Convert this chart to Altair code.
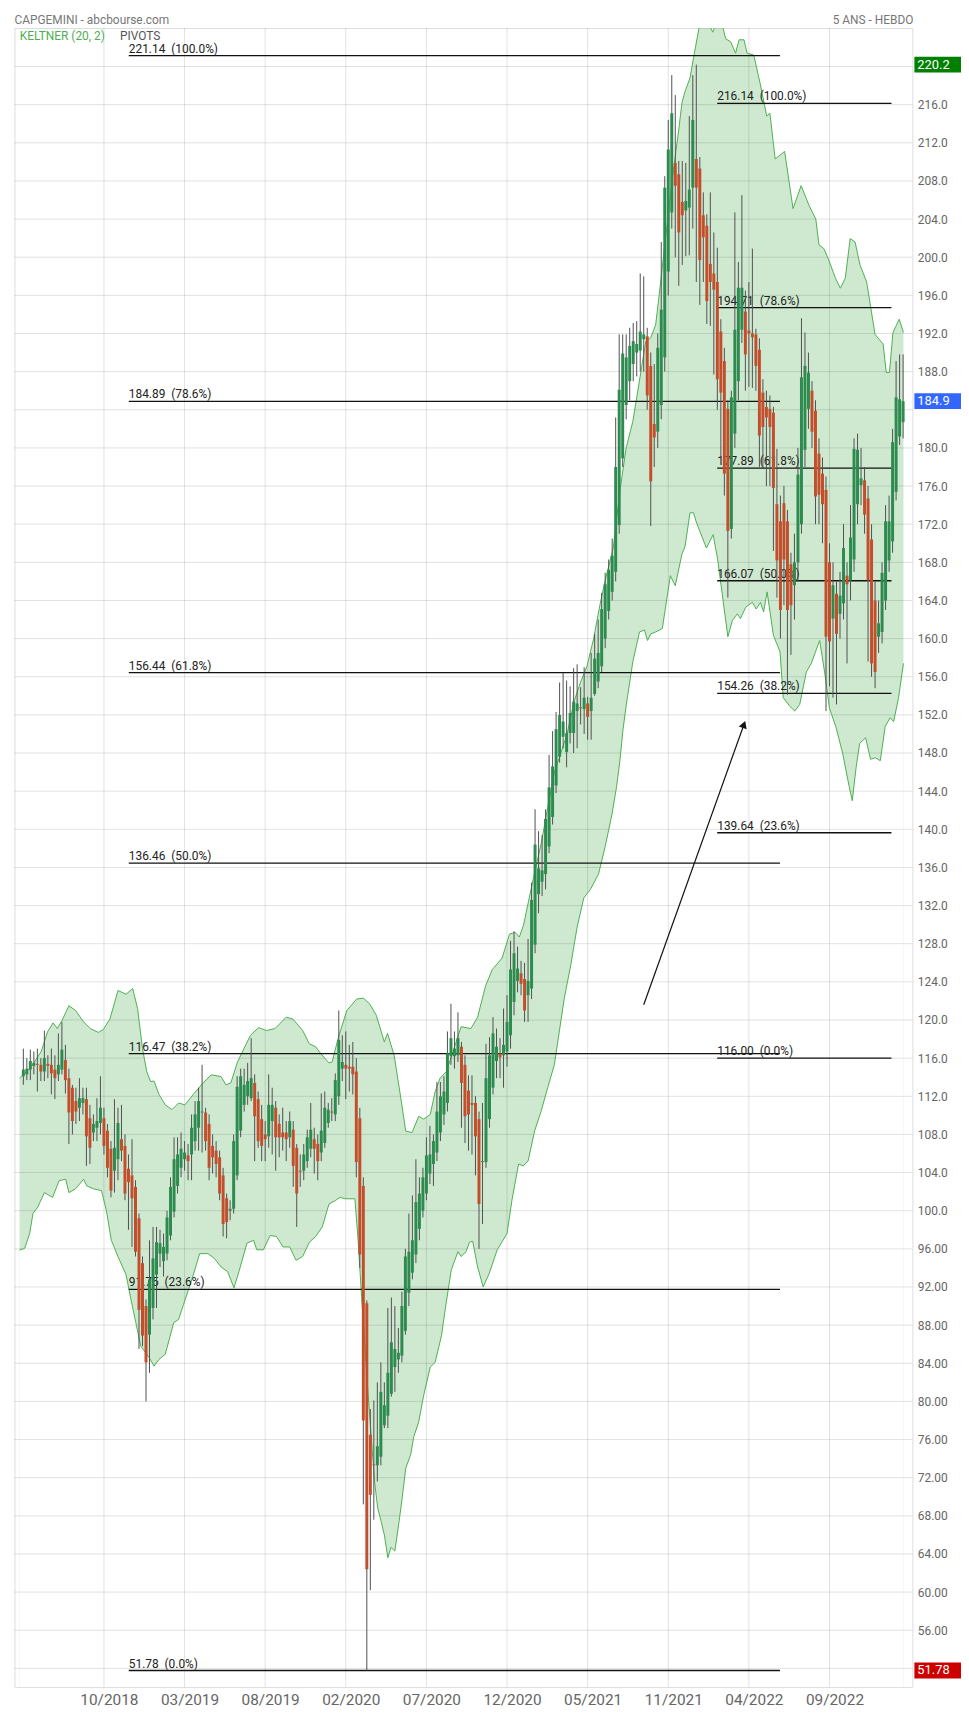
import altair as alt
import pandas as pd

# ---------------- candle data (weekly, index 0 .. 251) ----------------
OPEN = [
114.1,114.3,114.8,115.2,115.4,115.3,114.6,115.4,115.3,114.8,
114.3,114.8,115.8,113.9,112.9,111.5,110.8,111.3,111.7,109.7,
108.2,108.7,109.2,109.7,108.4,106.5,104.2,105.4,107.5,106.8,
104.4,103.7,102.5,99.2,94.5,90.0,87.0,89.8,93.3,95.5,
94.7,95.5,97.4,99.9,102.6,104.5,105.4,105.8,105.9,107.3,
108.7,110.3,110.3,109.1,106.8,106.3,105.6,103.7,101.3,100.0,
100.2,103.7,108.4,111.1,112.0,111.8,113.4,111.7,109.6,108.0,
107.8,109.4,110.8,109.1,108.2,108.2,107.7,108.5,106.6,104.2,
104.2,105.2,106.5,107.5,107.0,106.1,107.1,109.2,110.4,110.1,
112.0,114.9,115.3,115.1,115.1,114.6,109.7,102.6,90.3,76.5,
73.4,73.3,74.2,77.5,78.5,80.8,83.6,84.4,84.8,87.4,
91.4,93.5,95.4,98.1,100.0,101.8,103.9,104.9,106.1,108.2,
110.1,111.3,116.2,116.2,116.3,117.2,115.3,112.6,111.3,111.3,
109.6,105.1,105.1,109.6,112.9,115.7,116.5,116.3,116.7,118.4,
121.9,124.1,124.9,124.3,122.6,123.3,127.9,133.2,134.5,135.3,
138.2,141.3,144.6,147.6,149.7,148.1,150.1,150.1,152.4,152.8,
152.6,153.2,152.4,154.2,155.5,157.1,160.0,162.9,164.9,167.0,
171.9,178.9,184.5,187.0,188.8,190.0,190.2,191.4,191.7,188.6,
182.5,181.7,184.5,189.5,198.5,204.7,209.9,208.7,205.8,204.9,
205.2,207.3,210.3,209.3,204.4,203.3,199.3,198.3,197.4,192.2,
189.1,184.1,171.5,181.5,187.0,192.4,194.3,192.3,192.0,191.9,
190.3,185.8,184.3,184.1,183.7,174.1,172.3,174.2,172.3,167.8,
165.6,168.0,172.0,179.8,184.1,186.0,183.9,179.4,177.3,175.6,
168.0,162.1,164.7,162.6,163.7,166.6,166.1,168.3,174.1,176.1,
176.6,174.7,170.4,164.0,160.2,160.7,164.0,168.2,170.2,175.4,
181.2,182.7]
HIGH = [
117.0,116.0,116.9,116.7,117.0,116.0,118.9,116.3,117.0,116.3,
118.6,119.8,117.4,114.9,113.2,112.9,113.9,112.9,112.9,111.1,
110.1,111.8,114.1,110.8,109.1,107.3,111.7,110.8,111.1,108.0,
105.9,107.5,103.2,99.7,95.2,90.7,96.9,98.3,98.3,98.0,
97.6,100.0,103.5,107.7,107.7,108.2,107.3,107.0,110.1,111.5,
112.9,115.3,110.8,110.1,108.0,107.3,106.3,104.5,101.8,101.1,
108.0,114.1,114.9,114.9,115.5,118.1,114.3,112.5,111.1,109.4,
114.3,112.9,111.5,110.1,110.8,109.4,110.4,109.4,107.0,105.9,
107.0,108.5,111.3,108.7,108.0,112.3,112.5,111.3,111.8,114.4,
121.0,118.4,118.8,117.4,117.7,116.0,110.8,103.5,90.6,79.2,
80.1,82.0,84.1,82.0,89.8,90.9,90.0,87.7,91.5,96.0,
99.7,101.6,105.4,103.5,104.5,107.7,108.9,108.0,113.5,113.5,
114.1,118.8,121.7,118.8,120.8,117.7,116.3,114.2,114.2,112.0,
110.4,111.3,117.5,118.2,120.3,119.1,118.1,121.2,122.6,128.3,
129.3,127.7,126.2,126.0,128.5,134.4,142.1,139.8,139.4,142.1,
147.8,150.3,152.3,155.4,156.4,155.6,155.0,156.9,157.3,154.9,
157.0,153.9,158.5,160.5,162.0,164.8,166.9,168.3,170.5,183.2,
191.9,191.9,191.9,192.6,193.1,193.3,198.3,198.0,192.6,190.0,
188.8,192.0,201.6,208.5,214.4,219.1,217.0,210.1,210.1,209.9,
214.8,219.1,220.2,210.5,206.8,204.5,206.8,202.6,201.0,193.5,
190.5,185.0,186.0,204.7,199.5,206.5,196.5,197.4,200.9,192.5,
191.5,187.2,186.0,185.5,184.3,179.9,175.0,176.0,173.5,169.0,
171.0,180.0,193.6,192.1,190.0,187.0,185.0,181.0,179.0,177.0,
170.0,168.0,166.0,167.0,172.0,168.0,174.0,181.0,181.5,180.0,
178.0,176.0,172.0,166.0,164.0,168.0,174.0,175.0,182.0,189.1,
189.8,189.8]
LOW = [
113.2,113.7,113.7,114.3,112.5,113.6,113.6,113.9,112.2,111.7,
113.6,114.3,112.3,107.0,108.0,109.1,109.4,110.1,104.7,104.9,
107.3,107.3,108.0,105.9,103.5,101.4,101.9,103.2,105.2,101.1,
98.0,96.2,95.2,85.5,85.8,80.0,83.0,88.6,89.8,94.1,
93.1,94.8,96.9,99.3,101.8,103.5,104.2,103.2,103.2,106.3,
106.3,106.1,106.3,103.2,103.9,103.5,101.1,97.3,97.1,99.0,
99.7,103.2,107.7,110.4,111.1,111.5,105.2,106.6,105.2,105.2,
106.6,105.9,104.2,105.6,106.3,105.2,106.6,102.5,98.3,102.5,
103.2,104.5,105.6,103.9,103.2,105.2,106.6,108.7,109.4,109.4,
111.1,113.6,111.7,112.5,112.2,103.5,94.0,69.2,51.78,60.2,
67.6,71.6,73.3,77.2,77.2,80.5,81.0,83.0,84.1,87.0,
90.0,92.8,94.5,96.9,99.3,101.1,102.8,102.6,105.2,107.3,
109.0,110.4,115.3,114.9,115.6,108.7,107.1,106.3,105.9,103.7,
96.0,98.6,104.5,108.7,112.2,113.9,113.9,112.9,115.1,117.0,
120.5,122.9,122.6,119.8,119.8,122.2,127.0,131.2,133.0,133.7,
137.5,140.5,143.8,147.0,148.5,146.5,149.0,148.0,148.5,151.0,
150.0,149.4,149.4,154.0,154.8,156.5,159.0,162.0,164.0,166.0,
171.0,178.0,183.0,185.0,187.0,187.5,188.0,188.0,184.0,171.8,
178.0,180.0,183.0,188.0,196.0,203.0,200.0,197.0,199.2,200.1,
200.2,203.0,197.4,195.0,197.4,193.0,192.8,187.7,184.0,179.0,
175.0,164.3,170.5,180.0,185.0,191.0,186.0,186.4,186.3,186.0,
178.0,178.0,176.0,176.0,169.2,164.3,160.0,163.5,154.1,158.3,
162.0,166.0,171.0,178.0,182.0,180.0,172.0,172.0,170.0,152.4,
155.0,153.8,153.1,160.0,162.0,157.4,164.0,167.0,172.0,174.0,
171.0,157.6,156.0,154.8,158.5,159.5,163.0,167.0,169.0,174.5,
180.3,181.0]
CLOSE = [
114.8,114.9,115.7,115.5,115.3,114.6,116.0,115.2,114.4,113.9,
115.3,116.9,113.7,110.3,109.4,110.4,111.8,111.8,107.8,106.6,
109.1,109.4,110.8,106.8,104.5,102.1,106.6,109.2,106.3,101.8,
103.0,101.3,95.7,89.6,86.9,84.1,92.8,95.0,96.7,96.6,
96.2,99.3,102.5,105.4,105.9,106.5,106.1,105.2,108.7,110.1,
111.5,110.4,107.3,104.5,105.6,104.9,101.8,98.6,98.8,100.2,
107.3,113.0,114.1,113.2,113.6,113.9,109.9,107.3,106.8,107.5,
111.1,111.1,107.7,107.7,107.7,107.5,109.4,104.7,101.8,104.1,
105.9,107.7,108.5,106.5,105.2,108.4,110.8,110.6,110.3,113.7,
117.9,115.6,114.9,114.9,114.3,105.1,95.4,78.0,62.4,70.2,
73.3,75.3,81.0,79.6,83.0,86.2,85.5,85.1,90.0,95.2,
95.7,96.9,100.9,101.8,103.5,105.8,105.9,107.3,110.4,112.0,
112.5,116.5,118.1,117.0,118.1,113.4,109.9,110.1,111.1,107.8,
100.7,105.2,113.9,116.3,118.6,117.2,116.1,117.4,119.8,125.3,
127.0,125.4,123.8,121.0,124.1,132.6,138.4,135.9,135.7,141.1,
144.4,146.6,150.5,152.0,151.3,150.1,152.2,153.4,153.2,152.7,
153.8,151.8,153.8,157.9,158.5,163.1,165.7,167.2,168.7,178.0,
186.1,189.9,189.5,190.7,191.2,190.9,192.2,191.9,185.5,176.5,
181.1,190.5,194.5,207.3,211.3,215.1,207.5,202.6,204.4,205.9,
207.1,214.4,207.3,199.7,202.1,195.4,197.4,196.6,187.2,185.8,
177.3,171.3,185.3,192.4,196.8,196.8,189.8,192.0,191.6,188.6,
181.3,182.2,183.2,182.2,175.8,168.2,163.0,168.3,163.0,163.5,
168.0,177.2,187.4,188.6,187.9,181.7,174.9,175.1,174.1,160.2,
159.7,165.6,160.5,164.5,169.5,165.7,170.6,179.9,179.8,176.8,
173.0,166.1,157.4,156.5,161.6,166.9,172.3,172.3,180.6,185.3,
185.1,184.9]

# ---------------- Keltner band (20, 2) ----------------
UP_I = [-1.1,2.3,5.1,6.9,8.5,9.7,11.1,13.0,14.9,17.2,19.1,21.4,22.8,24.7,27.0,29.3,31.2,32.6,34.0,35.2,
        36.3,37.3,38.7,40.5,42.4,44.3,46.1,48.5,50.8,53.6,56.4,57.8,59.2,61.1,64.8,67.1,69.4,71.8,75.0,76.9,
        79.7,81.6,83.4,84.8,87.2,88.1,89.9,92.3,95.1,97.0,98.8,100.7,103.0,103.9,105.8,107.7,109.1,110.9,112.8,114.2,
        116.1,117.5,118.9,120.7,122.6,124.9,127.7,129.6,131.9,133.8,136.6,138.7,140.3,141.5,142.7,144.1,146.0,147.8,149.6,151.5,
        153.4,155.2,157.1,159.0,160.8,162.7,164.6,166.0,168.3,170.2,172.0,173.9,174.7,177.6,179.0,180.4,181.3,183.2,185.5,187.0,
        187.9,188.8,190.2,191.6,193.0,193.9,195.3,196.7,198.1,199.5,200.4,201.8,203.2,204.2,205.6,206.5,208.4,210.2,212.1,213.0,
        214.5,217.2,219.6,221.9,224.2,226.1,227.0,228.4,229.8,231.7,233.1,234.5,235.9,237.3,238.7,240.6,243.0,245.3,246.2,247.1,
        248.1,249.9,251.1]
UP_V = [113.9,115.1,116.7,118.75,119.7,119.1,120.0,121.5,121.0,119.8,119.1,118.7,119.0,120.1,123.1,122.7,123.3,121.2,117.0,114.6,
        113.55,113.6,112.2,111.1,110.6,111.3,111.1,112.2,113.2,114.25,114.07,113.2,113.4,115.6,118.4,119.2,118.9,119.1,120.3,120.1,
        118.9,117.5,117.2,116.5,115.5,115.6,118.2,121.0,122.2,122.3,121.7,120.5,117.7,118.6,116.3,111.8,108.35,108.2,109.9,109.6,
        110.1,112.5,113.9,114.6,116.7,119.3,119.1,120.3,123.6,125.3,126.5,129.0,129.2,128.7,129.95,132.4,135.7,138.6,142.3,146.0,
        148.05,150.1,153.4,155.45,157.1,160.0,163.7,166.1,169.5,175.5,180.0,182.8,184.6,191.2,191.55,192.9,195.7,201.9,209.2,213.4,
        216.2,217.4,218.8,221.7,224.5,225.0,224.6,223.6,225.0,224.2,222.9,222.6,221.4,222.8,222.8,221.4,221.2,218.25,214.8,215.1,
        210.3,211.1,205.1,207.5,205.4,204.0,201.3,200.9,199.7,197.8,196.75,197.8,201.95,201.6,199.2,197.4,191.9,190.9,187.9,187.9,
        192.1,193.5,192.1]
LO_I = [-1.1,0.4,1.8,2.75,4.15,6.0,8.35,10.2,12.1,13.0,14.9,17.2,18.1,20.0,22.3,23.7,25.1,27.0,29.3,30.7,
        32.1,33.5,35.9,37.3,38.7,40.5,42.9,44.3,45.7,47.1,48.5,50.3,52.7,54.5,56.4,58.3,60.1,61.5,63.8,65.7,
        66.6,68.5,70.4,72.2,74.1,76.0,77.8,79.7,81.6,83.4,85.3,87.2,89.0,90.4,91.8,93.2,94.6,95.5,96.5,98.4,
        100.2,101.1,102.1,103.0,104.0,104.9,106.0,107.2,108.1,109.1,110.5,111.4,112.8,114.2,116.1,117.5,119.3,120.5,122.1,124.0,
        124.9,126.3,127.3,128.2,129.6,131.2,132.9,135.2,138.0,139.4,141.3,142.6,144.0,145.9,147.7,149.6,151.5,154.3,156.2,158.0,
        159.9,161.8,164.1,166.0,167.9,169.2,170.2,171.1,172.0,173.9,175.8,177.2,178.1,179.0,180.4,182.3,184.6,186.0,187.9,188.8,
        190.2,191.2,192.1,194.9,196.8,198.1,201.0,202.3,203.7,204.6,206.1,208.0,209.1,210.3,211.2,212.2,214.0,215.9,216.8,218.7,
        220.1,221.5,223.4,224.8,227.2,228.6,230.0,231.9,233.8,235.6,236.5,237.6,238.6,240.3,241.7,243.1,244.5,245.9,247.3,248.3,
        249.7,251.1]
LO_V = [95.87,96.05,97.6,99.7,100.4,101.9,101.4,103.15,103.3,101.9,102.3,103.3,102.6,102.3,102.1,100.0,96.9,95.2,93.3,90.7,
        88.25,85.8,84.6,83.7,84.4,84.95,88.25,88.6,90.15,91.7,93.27,95.5,95.5,95.0,94.1,93.6,91.9,93.6,96.6,96.9,
        95.9,95.9,97.4,97.3,96.2,96.2,94.8,95.2,96.7,97.3,98.3,100.7,101.07,101.4,101.25,101.25,101.25,97.0,91.0,80.6,
        71.6,68.8,67.4,66.0,63.6,64.7,64.3,67.4,69.9,73.0,74.4,76.3,77.85,80.6,83.6,84.1,86.9,90.0,93.8,95.7,
        95.2,95.7,96.7,96.8,94.1,92.0,93.4,95.9,97.6,101.1,104.9,104.7,105.2,108.4,110.4,112.9,115.3,122.2,125.8,129.75,
        132.8,133.7,135.3,138.2,141.5,144.35,147.2,150.5,153.0,157.6,160.7,160.9,159.8,160.5,160.7,161.05,166.6,165.55,168.85,169.7,
        173.2,173.2,172.1,169.5,170.9,168.3,160.2,161.9,162.6,162.1,163.3,163.8,163.1,163.8,162.8,164.9,160.35,158.6,153.8,152.9,
        152.4,153.1,156.5,157.4,159.8,156.5,152.7,150.65,147.9,144.5,143.0,146.5,149.0,149.6,147.35,147.5,147.2,150.8,151.7,151.3,
        153.8,157.4]

# ---------------- Fibonacci pivots ----------------
FIB_PCT = ["100.0%", "78.6%", "61.8%", "50.0%", "38.2%", "23.6%", "0.0%"]
FIB_A = [221.14, 184.89, 156.44, 136.46, 116.47, 91.75, 51.78]
FIB_B = [216.14, 194.71, 177.89, 166.07, 154.26, 139.64, 116.00]

# ---------------- axes ----------------
TICK_IDX = [23, 46, 69, 92, 115, 138, 161, 184, 207, 230]
TICK_LBL = ["10/2018", "03/2019", "08/2019", "02/2020", "07/2020",
            "12/2020", "05/2021", "11/2021", "04/2022", "09/2022"]
Y_GRID = list(range(52, 221, 4))
Y_LABELS = [v for v in Y_GRID if v not in (184,)]

MARK_VAL = [220.2, 184.9, 51.78]
MARK_TXT = ["220.2", "184.9", "51.78"]
MARK_KIND = ["high", "last", "low"]

ARROW = {"x0": [177.0], "y0": [121.6], "x1": [205.6], "y1": [151.0]}

# ---------------- build ----------------
GREEN = "#2e8b50"
RED = "#c24e2c"
BAND = "#4caf50"
FONT = "Roboto"
NARROW = "'Liberation Sans Narrow', 'Arial Narrow', Roboto"

candles = pd.DataFrame({"i": list(range(len(OPEN))), "o": OPEN, "h": HIGH, "l": LOW, "c": CLOSE})
candles["dir"] = ["up" if c >= o else "down" for o, c in zip(OPEN, CLOSE)]
up_df = pd.DataFrame({"i": UP_I, "v": UP_V})
lo_df = pd.DataFrame({"i": LO_I, "v": LO_V})

XS = alt.Scale(domain=[-1.12, 252.24], nice=False, zero=False)
YS = alt.Scale(domain=[50.04, 224.04], nice=False, zero=False)

lbl_expr = ("[" + ",".join("'%s'" % s for s in TICK_LBL) + "][indexof(["
            + ",".join(str(v) for v in TICK_IDX) + "], datum.value)]")
x_axis = alt.Axis(values=TICK_IDX, labelExpr=lbl_expr, grid=False, domain=False, ticks=False,
                  labelFont=NARROW, labelFontSize=15.5, labelColor="#666666", labelPadding=6,
                  labelOffset=5, labelFlush=False, labelOverlap=False, title=None)
y_axis = alt.Axis(orient="right", values=Y_LABELS, format=".4r", grid=False, domain=False, ticks=False,
                  labelFont=FONT, labelFontSize=12, labelColor="#666666", labelPadding=5,
                  labelFlush=False, labelOverlap=False, title=None)


def X(f):
    return alt.X(f, type="quantitative", scale=XS, axis=x_axis, title=None)


def Y(f):
    return alt.Y(f, type="quantitative", scale=YS, axis=y_axis, title=None)


area_up = alt.Chart(up_df).mark_area(color=BAND, opacity=0.27, clip=True).encode(
    x=X("i"), y=Y("v"), y2=alt.Y2Datum(50.04))
area_lo = alt.Chart(lo_df).mark_area(color="white", opacity=1, clip=True).encode(
    x=X("i"), y=Y("v"), y2=alt.Y2Datum(50.04))

hgrid = alt.Chart(pd.DataFrame({"v": Y_GRID})).mark_rule(color="black", opacity=0.12, strokeWidth=1).encode(y=Y("v"))
vgrid = alt.Chart(pd.DataFrame({"i": TICK_IDX})).mark_rule(color="black", opacity=0.12, strokeWidth=1).encode(x=X("i"))

line_up = alt.Chart(up_df).mark_line(color=BAND, strokeWidth=1, clip=True).encode(x=X("i"), y=Y("v"))
line_lo = alt.Chart(lo_df).mark_line(color=BAND, strokeWidth=1, clip=True).encode(x=X("i"), y=Y("v"))

fa_df = pd.DataFrame({"v": FIB_A, "t": ["%.2f\u00a0\u00a0(%s)" % (v, p) for v, p in zip(FIB_A, FIB_PCT)]})
fb_df = pd.DataFrame({"v": FIB_B, "t": ["%.2f\u00a0\u00a0(%s)" % (v, p) for v, p in zip(FIB_B, FIB_PCT)]})


def fib_layers(df, x0, x1):
    r = alt.Chart(df).mark_rule(color="#111111", strokeWidth=1.3).encode(
        y=Y("v"), x=alt.XDatum(x0, axis=x_axis, scale=XS, title=None), x2=alt.X2Datum(x1))
    t = alt.Chart(df).mark_text(align="left", baseline="alphabetic", dy=-3, fontSize=12,
                                font=FONT, color="#222222").encode(
        y=Y("v"), x=alt.XDatum(x0, axis=x_axis, scale=XS, title=None), text="t:N")
    return [r, t]


wick = alt.Chart(candles).mark_rule(color="#505050", strokeWidth=1).encode(
    x=X("i"), y=Y("l"), y2="h:Q")
body = alt.Chart(candles).mark_bar(width=3).encode(
    x=X("i"), y=Y("o"), y2="c:Q",
    color=alt.Color("dir:N", scale=alt.Scale(domain=["up", "down"], range=[GREEN, RED]), legend=None))

arrow_df = pd.DataFrame(ARROW)
arrow_line = alt.Chart(arrow_df).mark_rule(color="#111111", strokeWidth=1.2).encode(
    x=X("x0"), y=Y("y0"), x2="x1:Q", y2="y1:Q")
arrow_head = alt.Chart(arrow_df).mark_point(shape="triangle-up", filled=True, size=70, angle=19.8,
                                             color="#111111", opacity=1).encode(x=X("x1"), y=Y("y1"))

mk_df = pd.DataFrame({"v": MARK_VAL, "t": MARK_TXT, "k": MARK_KIND})
RECT = "M-1,-0.34L1,-0.34L1,0.34L-1,0.34Z"
boxes = alt.Chart(mk_df).mark_point(shape=RECT, filled=True, size=2209, opacity=1, strokeWidth=0).encode(
    x=alt.value(931), y=Y("v"),
    fill=alt.Fill("k:N", scale=alt.Scale(domain=["high", "last", "low"],
                                         range=["#008000", "#3366ff", "#cc0000"]), legend=None))
box_txt = alt.Chart(mk_df).mark_text(align="left", baseline="middle", color="white", fontSize=13,
                                     font=FONT).encode(x=alt.value(910.5), y=Y("v"), text="t:N")


def label(txt, x, y, color, align="left", size=12):
    return alt.Chart(pd.DataFrame({"t": [txt]})).mark_text(
        align=align, baseline="alphabetic", fontSize=size, font=FONT, color=color).encode(
        x=alt.value(x), y=alt.value(y), text="t:N")


layers = [area_up, area_lo, hgrid, vgrid, line_up, line_lo]
layers += fib_layers(fa_df, 30.08, 215.87)
layers += fib_layers(fb_df, 197.96, 247.68)
layers += [wick, body, arrow_line, arrow_head, boxes, box_txt,
           label("CAPGEMINI - abcbourse.com", 0, -4.5, "#777777"),
           label("5 ANS - HEBDO", 906.5, -4.5, "#777777", align="right"),
           label("KELTNER (20, 2)", 5.3, 12.3, BAND),
           label("PIVOTS", 106.5, 12.3, "#555555")]

chart = alt.layer(*layers).properties(
    width=905.5, height=1673,
    padding={"left": 6.5, "top": 13, "right": 49, "bottom": 22},
    autosize=alt.AutoSizeParams(type="none"),
).configure_view(stroke="#dddddd", strokeWidth=1).configure(font=FONT)

chart.save("out.html", embed_options={"renderer": "svg", "actions": False})
